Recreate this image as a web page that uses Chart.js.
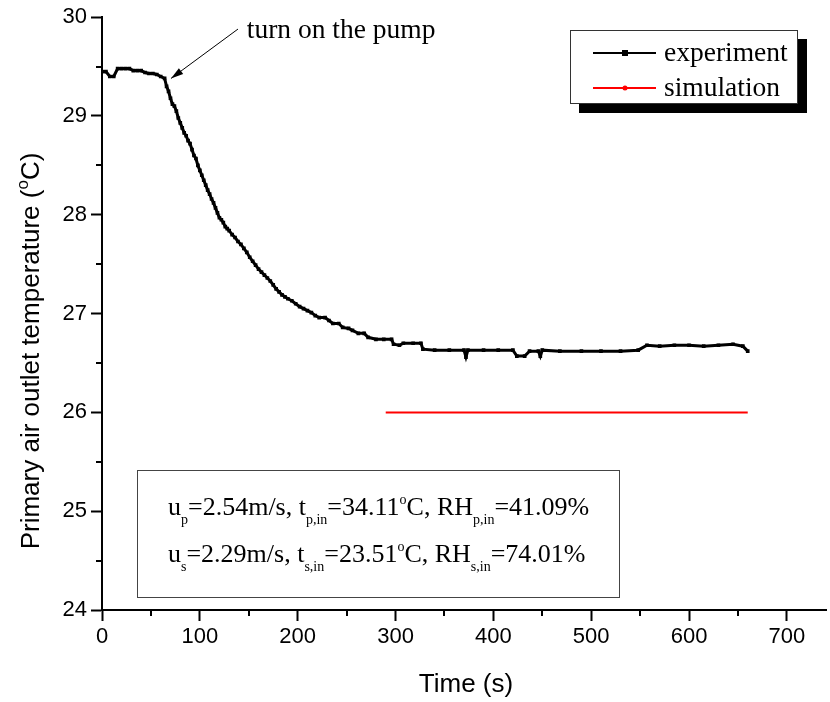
<!DOCTYPE html>
<html>
<head>
<meta charset="utf-8">
<title>Primary air outlet temperature</title>
<script src="https://cdn.jsdelivr.net/npm/chart.js@4.4.1/dist/chart.umd.min.js"></script>
<style>
  html, body { margin: 0; padding: 0; background: #fff; overflow: hidden; }
  #wrap { position: relative; width: 830px; height: 702px; }
</style>
</head>
<body>
<div id="wrap"><canvas id="outlet-temp-chart" width="830" height="702"></canvas></div>
<script>
(function () {
  'use strict';

  // Experiment: time (s) and primary air outlet temperature (°C)
  const timeExp = [
    0, 4, 8, 12, 16, 20, 24, 28, 32, 36, 40, 44, 48, 52, 56, 60, 64,
    66, 68, 70, 72, 74, 76, 78, 80, 82, 84, 86, 88, 90, 92, 94, 96, 98,
    100, 102, 104, 106, 108, 110, 112, 114, 116, 118, 120, 122, 124, 126, 128, 130,
    133, 136, 139, 142, 145, 148, 151, 154, 157, 160, 163, 166, 169, 172, 175, 178,
    181, 184, 187, 190, 194, 198, 202, 206, 210, 214, 218, 222, 228, 232, 236, 242,
    246, 252, 256, 262, 268, 272, 280, 288, 296, 298, 304, 308, 318, 326, 328, 340,
    355, 370, 372, 374, 390, 405, 420, 424, 432, 437, 446, 448, 450, 468, 490, 510,
    530, 548, 557, 570, 585, 600, 615, 630, 645, 655, 660
  ];
  const tempExp = [
    29.45, 29.45, 29.40, 29.40, 29.48, 29.48, 29.48, 29.48, 29.46, 29.46, 29.46, 29.44, 29.43, 29.43, 29.42, 29.40, 29.38,
    29.30, 29.25, 29.18, 29.12, 29.10, 29.05, 28.98, 28.93, 28.88, 28.83, 28.80, 28.75, 28.72, 28.66, 28.60, 28.57, 28.50,
    28.45, 28.40, 28.35, 28.30, 28.25, 28.21, 28.16, 28.12, 28.07, 28.02, 27.97, 27.95, 27.92, 27.88, 27.86, 27.84,
    27.80, 27.77, 27.73, 27.70, 27.66, 27.62, 27.57, 27.53, 27.49, 27.45, 27.42, 27.39, 27.36, 27.33, 27.29, 27.25,
    27.22, 27.19, 27.17, 27.15, 27.13, 27.10, 27.07, 27.05, 27.03, 27.01, 26.98, 26.96, 26.96, 26.93, 26.90, 26.90,
    26.86, 26.85, 26.83, 26.80, 26.80, 26.76, 26.74, 26.74, 26.74, 26.69, 26.68, 26.70, 26.70, 26.70, 26.64, 26.63,
    26.63, 26.63, 26.56, 26.63, 26.63, 26.63, 26.63, 26.57, 26.57, 26.62, 26.62, 26.57, 26.63, 26.62, 26.62, 26.62,
    26.62, 26.63, 26.68, 26.67, 26.68, 26.68, 26.67, 26.68, 26.69, 26.67, 26.62
  ];

  // Simulation: steady value
  const timeSim = [290, 380, 470, 560, 660];
  const tempSim = [26.0, 26.0, 26.0, 26.0, 26.0];

  // Axis ticks
  const xTickValues = [0, 100, 200, 300, 400, 500, 600, 700];
  const xMinorValues = [50, 150, 250, 350, 450, 550, 650];
  const yTickValues = [24, 25, 26, 27, 28, 29, 30];
  const yMinorValues = [24.5, 25.5, 26.5, 27.5, 28.5, 29.5];

  // "turn on the pump" annotation, in data coordinates
  const pumpArrowTip = { x: 70.5, y: 29.38 };
  const pumpArrowTail = { x: 139, y: 29.88 };
  const pumpLabelAt = { x: 148, y: 29.79 };

  const SANS = '"Liberation Sans", Arial, sans-serif';
  const SERIF = '"Liberation Serif", "Times New Roman", serif';

  // Writes text with sub/superscripts, left to right from (x, y) baseline
  function drawRich(ctx, x, y, parts, size, subSize) {
    parts.forEach(function (part) {
      const text = part[0];
      const kind = part[1];
      if (kind === 'sub') {
        ctx.font = subSize + 'px ' + ctx._family;
        ctx.fillText(text, x, y + size * 0.33);
      } else if (kind === 'sup') {
        ctx.font = subSize + 'px ' + ctx._family;
        ctx.fillText(text, x, y - size * 0.42);
      } else {
        ctx.font = size + 'px ' + ctx._family;
        ctx.fillText(text, x, y);
      }
      x += ctx.measureText(text).width;
    });
    return x;
  }

  function richWidth(ctx, parts, size, subSize) {
    let w = 0;
    parts.forEach(function (part) {
      ctx.font = (part[1] === 'n' ? size : subSize) + 'px ' + ctx._family;
      w += ctx.measureText(part[0]).width;
    });
    return w;
  }

  const decorations = {
    id: 'decorations',
    afterDraw: function (chart) {
      const ctx = chart.ctx;
      const xs = chart.scales.x;
      const ys = chart.scales.y;
      const area = chart.chartArea;

      ctx.save();
      ctx.fillStyle = '#000';
      ctx.strokeStyle = '#000';
      ctx.textAlign = 'left';
      ctx.textBaseline = 'alphabetic';

      // minor ticks
      ctx.lineWidth = 2;
      ctx.beginPath();
      xMinorValues.forEach(function (v) {
        const px = Math.round(xs.getPixelForValue(v));
        ctx.moveTo(px, area.bottom);
        ctx.lineTo(px, area.bottom + 6);
      });
      yMinorValues.forEach(function (v) {
        const py = Math.round(ys.getPixelForValue(v));
        ctx.moveTo(area.left - 6, py);
        ctx.lineTo(area.left, py);
      });
      ctx.stroke();

      // axis titles
      ctx._family = SANS;
      const yTitle = [['Primary air outlet temperature (', 'n'], ['o', 'sup'], ['C)', 'n']];
      const yw = richWidth(ctx, yTitle, 26, 17);
      ctx.save();
      ctx.translate(30, 351);
      ctx.rotate(-Math.PI / 2);
      drawRich(ctx, -yw / 2, 9, yTitle, 26, 17);
      ctx.restore();

      ctx.font = '26px ' + SANS;
      ctx.textAlign = 'center';
      ctx.fillText('Time (s)', (area.left + area.right) / 2 + 2, 692);
      ctx.textAlign = 'left';

      // pump annotation
      const tipX = xs.getPixelForValue(pumpArrowTip.x);
      const tipY = ys.getPixelForValue(pumpArrowTip.y);
      const tailX = xs.getPixelForValue(pumpArrowTail.x);
      const tailY = ys.getPixelForValue(pumpArrowTail.y);
      const ang = Math.atan2(tipY - tailY, tipX - tailX);
      ctx.lineWidth = 1;
      ctx.beginPath();
      ctx.moveTo(tailX, tailY);
      ctx.lineTo(tipX, tipY);
      ctx.stroke();
      ctx.beginPath();
      ctx.moveTo(tipX, tipY);
      ctx.lineTo(tipX - 13 * Math.cos(ang - 0.28), tipY - 13 * Math.sin(ang - 0.28));
      ctx.lineTo(tipX - 13 * Math.cos(ang + 0.28), tipY - 13 * Math.sin(ang + 0.28));
      ctx.closePath();
      ctx.fill();
      ctx.font = '27.5px ' + SERIF;
      ctx.fillText('turn on the pump', xs.getPixelForValue(pumpLabelAt.x), ys.getPixelForValue(pumpLabelAt.y));

      // legend box with drop shadow
      ctx.fillRect(579, 39, 228, 74);
      ctx.fillStyle = '#fff';
      ctx.fillRect(570, 30, 227, 73);
      ctx.strokeStyle = '#333';
      ctx.lineWidth = 1;
      ctx.strokeRect(570.5, 30.5, 227, 73);

      const legendRows = [
        { label: 'experiment', color: '#000', y: 53, square: true },
        { label: 'simulation', color: '#ff0000', y: 88, square: false }
      ];
      legendRows.forEach(function (row) {
        ctx.strokeStyle = row.color;
        ctx.fillStyle = row.color;
        ctx.lineWidth = 2;
        ctx.beginPath();
        ctx.moveTo(593, row.y);
        ctx.lineTo(656, row.y);
        ctx.stroke();
        if (row.square) {
          ctx.fillRect(622, row.y - 3, 6, 6);
        } else {
          ctx.beginPath();
          ctx.arc(625, row.y, 2.5, 0, Math.PI * 2);
          ctx.fill();
        }
        ctx.fillStyle = '#000';
        ctx.font = '27.5px ' + SERIF;
        ctx.fillText(row.label, 664, row.y + 8);
      });

      // inlet condition box
      ctx.fillStyle = '#fff';
      ctx.fillRect(137, 470, 482, 127);
      ctx.strokeStyle = '#444';
      ctx.lineWidth = 1;
      ctx.strokeRect(137.5, 470.5, 482, 127);
      ctx.fillStyle = '#000';
      ctx._family = SERIF;
      drawRich(ctx, 168, 515, [
        ['u', 'n'], ['p', 'sub'], ['=2.54m/s, t', 'n'], ['p,in', 'sub'], ['=34.11', 'n'],
        ['o', 'sup'], ['C, RH', 'n'], ['p,in', 'sub'], ['=41.09%', 'n']
      ], 26, 14);
      drawRich(ctx, 168, 562, [
        ['u', 'n'], ['s', 'sub'], ['=2.29m/s, t', 'n'], ['s,in', 'sub'], ['=23.51', 'n'],
        ['o', 'sup'], ['C, RH', 'n'], ['s,in', 'sub'], ['=74.01%', 'n']
      ], 26, 14);

      ctx.restore();
    }
  };

  const canvas = document.getElementById('outlet-temp-chart');

  new Chart(canvas.getContext('2d'), {
    type: 'line',
    data: {
      datasets: [
        {
          label: 'experiment',
          data: timeExp.map(function (t, i) { return { x: t, y: tempExp[i] }; }),
          borderColor: '#000',
          backgroundColor: '#000',
          borderWidth: 3,
          pointStyle: 'rect',
          pointRadius: 2.6,
          pointBorderWidth: 0,
          tension: 0,
          fill: false
        },
        {
          label: 'simulation',
          data: timeSim.map(function (t, i) { return { x: t, y: tempSim[i] }; }),
          borderColor: '#ff0000',
          backgroundColor: '#ff0000',
          borderWidth: 2,
          pointRadius: 0,
          tension: 0,
          fill: false
        }
      ]
    },
    options: {
      responsive: false,
      animation: false,
      devicePixelRatio: 1,
      layout: { padding: { top: 16, right: 0, bottom: 0, left: 0 } },
      plugins: {
        legend: { display: false },
        tooltip: { enabled: false }
      },
      scales: {
        x: {
          type: 'linear',
          min: 0,
          max: 740,
          afterBuildTicks: function (scale) {
            scale.ticks = xTickValues.map(function (v) { return { value: v }; });
          },
          afterFit: function (scale) { scale.height = 92; },
          border: { display: true, color: '#000', width: 2 },
          grid: { drawOnChartArea: false, drawTicks: true, tickLength: 11, tickWidth: 2, tickColor: '#000' },
          ticks: {
            color: '#000',
            padding: 3,
            maxRotation: 0,
            autoSkip: false,
            font: { family: SANS, size: 22 }
          }
        },
        y: {
          type: 'linear',
          min: 24,
          max: 30,
          afterBuildTicks: function (scale) {
            scale.ticks = yTickValues.map(function (v) { return { value: v }; });
          },
          afterFit: function (scale) { scale.width = 102; },
          border: { display: true, color: '#000', width: 2 },
          grid: { drawOnChartArea: false, drawTicks: true, tickLength: 11, tickWidth: 2, tickColor: '#000' },
          ticks: {
            color: '#000',
            padding: 4,
            autoSkip: false,
            font: { family: SANS, size: 22 }
          }
        }
      }
    },
    plugins: [decorations]
  });
})();
</script>
</body>
</html>
